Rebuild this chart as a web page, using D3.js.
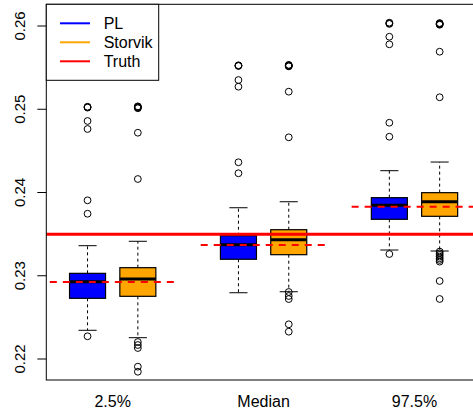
<!DOCTYPE html>
<html><head><meta charset="utf-8">
<script src="https://cdn.jsdelivr.net/npm/d3@7"></script>
<style>html,body{margin:0;padding:0;background:#fff;overflow:hidden}</style>
</head><body>
<svg id="chart" width="473" height="410"></svg>
<script>
const categories = ["2.5%", "Median", "97.5%"];
const methods = ["PL", "Storvik"];
const methodColors = ["#0000FF", "#FFA500"];
// [lower whisker, Q1, median, Q3, upper whisker]
const plStats = [
  [0.22345, 0.22729, 0.22929, 0.23029, 0.23361],
  [0.22796, 0.23198, 0.23373, 0.23481, 0.23817],
  [0.23309, 0.23678, 0.23846, 0.23938, 0.24262]
];
const storvikStats = [
  [0.22256, 0.22753, 0.22961, 0.23097, 0.23414],
  [0.22808, 0.23253, 0.23433, 0.23553, 0.23889],
  [0.23297, 0.23714, 0.23890, 0.23998, 0.24366]
];
const plOutliers = [
  [0.2502, 0.25025, 0.2503, 0.24859, 0.24763, 0.23906, 0.23745, 0.22273],
  [0.25523, 0.2552, 0.25528, 0.25351, 0.25271, 0.24363, 0.24231],
  [0.26032, 0.26025, 0.2604, 0.25871, 0.2578, 0.24838, 0.2467, 0.23261]
];
const storvikOutliers = [
  [0.25019, 0.25025, 0.2503, 0.25035, 0.25012, 0.24718, 0.24162, 0.22204, 0.22168, 0.22132, 0.21908, 0.21847],
  [0.25523, 0.2552, 0.25528, 0.25533, 0.25515, 0.25211, 0.24663, 0.22805, 0.22757, 0.2272, 0.22417, 0.22328],
  [0.26024, 0.2602, 0.2603, 0.26035, 0.26015, 0.25691, 0.25144, 0.2329, 0.2327, 0.2325, 0.2323, 0.2321, 0.2319, 0.2317, 0.22937, 0.22721]
];
const truthValue = 0.235;
const trueQuantiles = [0.22925, 0.23369, 0.23829];
const yTicks = [0.22, 0.23, 0.24, 0.25, 0.26];
const legendLabels = ["PL", "Storvik", "Truth"];
const legendColors = ["#0000FF", "#FFA500", "#FF0000"];

const svg = d3.select("#chart");
const font = "'Liberation Sans', Arial, Helvetica, sans-serif";
const pLeft = 46.3, pRight = 480.9, pTop = 4.3, pBottom = 380;
const x = d3.scaleLinear().domain([0.18, 8.82]).range([pLeft, pRight]);
const y = d3.scaleLinear().domain([0.217478, 0.262607]).range([pBottom, pTop]);

// positions: groups at 1-2, 4-5, 7-8
const boxes = [];
categories.forEach((c, gi) => {
  [plStats, storvikStats].forEach((st, mi) => {
    boxes.push({pos: gi * 3 + 1 + mi, stats: st[gi], outliers: [plOutliers, storvikOutliers][mi][gi], color: methodColors[mi]});
  });
});
const hw = 0.358, sw = 0.18;

const g = svg.append("g");
boxes.forEach(b => {
  const [lo, q1, md, q3, hi] = b.stats;
  const cx = x(b.pos);
  g.append("line").attr("x1", cx).attr("x2", cx).attr("y1", y(q3)).attr("y2", y(hi))
    .attr("stroke", "#000").attr("stroke-dasharray", "3,3");
  g.append("line").attr("x1", cx).attr("x2", cx).attr("y1", y(q1)).attr("y2", y(lo))
    .attr("stroke", "#000").attr("stroke-dasharray", "3,3");
  [lo, hi].forEach(v => g.append("line").attr("x1", x(b.pos - sw)).attr("x2", x(b.pos + sw))
    .attr("y1", y(v)).attr("y2", y(v)).attr("stroke", "#000"));
  g.append("rect").attr("x", x(b.pos - hw)).attr("width", x(b.pos + hw) - x(b.pos - hw))
    .attr("y", y(q3)).attr("height", y(q1) - y(q3))
    .attr("fill", b.color).attr("stroke", "#000").attr("stroke-width", 1.2);
  g.append("line").attr("x1", x(b.pos - hw)).attr("x2", x(b.pos + hw))
    .attr("y1", y(md)).attr("y2", y(md)).attr("stroke", "#000").attr("stroke-width", 3);
  b.outliers.forEach(v => g.append("circle").attr("cx", cx).attr("cy", y(v)).attr("r", 3.4)
    .attr("fill", "none").attr("stroke", "#000").attr("stroke-width", 1));
});

svg.append("line").attr("x1", pLeft).attr("x2", pRight).attr("y1", y(truthValue)).attr("y2", y(truthValue))
  .attr("stroke", "#FF0000").attr("stroke-width", 3);
trueQuantiles.forEach((v, gi) => {
  const c = gi * 3 + 1.5;
  svg.append("line").attr("x1", x(c - 1.25)).attr("x2", x(c + 1.25)).attr("y1", y(v)).attr("y2", y(v))
    .attr("stroke", "#FF0000").attr("stroke-width", 2).attr("stroke-dasharray", "7,6");
});

svg.append("rect").attr("x", pLeft).attr("y", pTop).attr("width", pRight - pLeft).attr("height", pBottom - pTop)
  .attr("fill", "none").attr("stroke", "#000").attr("stroke-width", 1);

const yAxis = svg.append("g");
yTicks.forEach(t => {
  yAxis.append("line").attr("x1", pLeft - 9).attr("x2", pLeft).attr("y1", y(t)).attr("y2", y(t)).attr("stroke", "#000");
  yAxis.append("text").attr("transform", `translate(25,${y(t)}) rotate(-90)`)
    .attr("text-anchor", "middle").attr("font-family", font).attr("font-size", 15).text(t.toFixed(2));
});
categories.forEach((c, gi) => {
  svg.append("text").attr("x", x(gi * 3 + 1.5)).attr("y", 406.5).attr("text-anchor", "middle")
    .attr("font-family", font).attr("font-size", 16).text(c);
});

const lg = svg.append("g");
lg.append("rect").attr("x", pLeft).attr("y", pTop).attr("width", 158.7 - pLeft).attr("height", 80.3 - pTop)
  .attr("fill", "#fff").attr("stroke", "#000");
legendLabels.forEach((l, i) => {
  const ly = 23.3 + i * 19;
  lg.append("line").attr("x1", 60).attr("x2", 90).attr("y1", ly).attr("y2", ly)
    .attr("stroke", legendColors[i]).attr("stroke-width", 2);
  lg.append("text").attr("x", 103.7).attr("y", ly + 6).attr("font-family", font).attr("font-size", 16).text(l);
});
</script>
</body></html>
